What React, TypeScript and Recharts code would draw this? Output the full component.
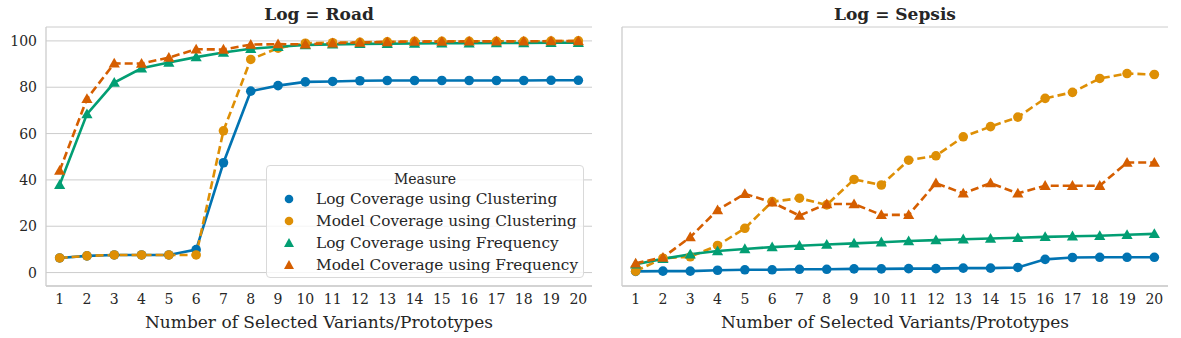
import { LineChart, Line, XAxis, YAxis, CartesianGrid } from "recharts";

const categories = [1, 2, 3, 4, 5, 6, 7, 8, 9, 10, 11, 12, 13, 14, 15, 16, 17, 18, 19, 20];
const yTicks = [0, 20, 40, 60, 80, 100];

// Log = Road
const roadLogClustering = [6.3, 7.2, 7.6, 7.6, 7.6, 9.9, 47.4, 78.3, 80.7, 82.3, 82.5, 82.8, 82.9, 82.9, 82.9, 82.9, 82.9, 82.9, 83.0, 83.0];
const roadModelClustering = [6.3, 7.2, 7.6, 7.6, 7.6, 7.6, 61.2, 92.0, 96.9, 99.0, 99.2, 99.4, 99.6, 99.8, 99.8, 99.8, 99.8, 99.8, 99.9, 100.0];
const roadLogFrequency = [37.9, 68.4, 82.0, 88.2, 90.7, 93.0, 95.0, 96.6, 97.5, 98.2, 98.5, 98.7, 98.8, 98.9, 99.0, 99.0, 99.1, 99.1, 99.2, 99.2];
const roadModelFrequency = [44.0, 75.0, 90.3, 90.2, 92.8, 96.4, 96.3, 98.4, 98.6, 98.5, 99.0, 99.3, 99.5, 99.7, 99.7, 99.8, 99.8, 99.8, 99.9, 99.9];

// Log = Sepsis
const sepsisLogClustering = [0.5, 0.6, 0.6, 1.0, 1.2, 1.2, 1.4, 1.4, 1.6, 1.6, 1.7, 1.7, 1.9, 1.9, 2.2, 5.7, 6.5, 6.6, 6.6, 6.6];
const sepsisModelClustering = [0.6, 6.2, 6.8, 11.7, 19.1, 30.6, 32.1, 29.2, 40.2, 37.8, 48.5, 50.4, 58.6, 63.0, 67.1, 75.2, 77.8, 83.8, 85.9, 85.5];
const sepsisLogFrequency = [3.6, 5.9, 7.9, 9.3, 10.2, 11.0, 11.6, 12.1, 12.6, 13.1, 13.6, 14.0, 14.4, 14.7, 15.0, 15.4, 15.7, 15.9, 16.3, 16.7];
const sepsisModelFrequency = [4.0, 6.5, 15.3, 27.0, 34.0, 30.3, 24.6, 29.6, 29.6, 24.9, 24.9, 38.6, 34.2, 38.6, 34.2, 37.5, 37.5, 37.5, 47.5, 47.5];

const measures = [
  "Log Coverage using Clustering",
  "Model Coverage using Clustering",
  "Log Coverage using Frequency",
  "Model Coverage using Frequency",
];

const BLUE = "#0173b2";
const ORANGE = "#de8f05";
const GREEN = "#029e73";
const RED = "#d55e00";
const FONT = "'DejaVu Serif', serif";
const GRID = "#cccccc";

function buildRows(a: number[], b: number[], c: number[], d: number[]) {
  return categories.map((x, i) => ({ x, logClust: a[i], modelClust: b[i], logFreq: c[i], modelFreq: d[i] }));
}

const roadRows = buildRows(roadLogClustering, roadModelClustering, roadLogFrequency, roadModelFrequency);
const sepsisRows = buildRows(sepsisLogClustering, sepsisModelClustering, sepsisLogFrequency, sepsisModelFrequency);

function CircleDot(props: any) {
  const { cx, cy, fill } = props;
  if (cx == null || cy == null) return null;
  return <circle cx={cx} cy={cy} r={4.8} fill={fill} stroke="none" />;
}

function TriangleDot(props: any) {
  const { cx, cy, fill } = props;
  if (cx == null || cy == null) return null;
  const s = 5.6;
  return (
    <polygon
      points={`${cx},${cy - s} ${cx - s},${cy + s * 0.75} ${cx + s},${cy + s * 0.75}`}
      fill={fill}
      stroke="none"
    />
  );
}

function Panel({ rows, showY }: { rows: any[]; showY: boolean }) {
  return (
    <LineChart width={600} height={338} data={rows} margin={{ top: 27, right: 8, bottom: 0, left: 0 }}>
      <CartesianGrid vertical={false} stroke={GRID} strokeWidth={1} />
      <XAxis
        dataKey="x"
        type="number"
        domain={[0.5, 20.5]}
        ticks={categories}
        interval={0}
        tickLine={false}
        tickSize={0}
        tickMargin={8}
        axisLine={{ stroke: GRID, strokeWidth: 1.3 }}
        tick={{ fontSize: 14, fontFamily: FONT, fill: "#262626" }}
        height={52}
        label={{
          value: "Number of Selected Variants/Prototypes",
          position: "insideBottom",
          offset: 10,
          style: { fontSize: 17, fontFamily: FONT, fill: "#262626" },
        }}
      />
      <YAxis
        type="number"
        domain={[-5.8, 106]}
        ticks={yTicks}
        allowDataOverflow
        tickLine={false}
        tickSize={0}
        tickMargin={9}
        axisLine={{ stroke: GRID, strokeWidth: 1.3 }}
        tick={showY ? { fontSize: 14, fontFamily: FONT, fill: "#262626" } : false}
        width={46}
      />
      <Line dataKey="logClust" stroke={BLUE} fill={BLUE} strokeWidth={2.6} dot={<CircleDot fill={BLUE} />} activeDot={false} isAnimationActive={false} />
      <Line dataKey="modelClust" stroke={ORANGE} fill={ORANGE} strokeWidth={2.6} strokeDasharray="8 4" dot={<CircleDot fill={ORANGE} />} activeDot={false} isAnimationActive={false} />
      <Line dataKey="logFreq" stroke={GREEN} fill={GREEN} strokeWidth={2.6} dot={<TriangleDot fill={GREEN} />} activeDot={false} isAnimationActive={false} />
      <Line dataKey="modelFreq" stroke={RED} fill={RED} strokeWidth={2.6} strokeDasharray="8 4" dot={<TriangleDot fill={RED} />} activeDot={false} isAnimationActive={false} />
    </LineChart>
  );
}

function LegendBox() {
  const colors = [BLUE, ORANGE, GREEN, RED];
  return (
    <div
      style={{
        position: "absolute",
        left: 266,
        top: 165,
        width: 318,
        height: 113,
        boxSizing: "border-box",
        border: "1px solid #d9d9d9",
        borderRadius: 4,
        background: "rgba(255,255,255,0.8)",
        fontFamily: FONT,
        fontSize: 15.3,
        color: "#262626",
      }}
    >
      <div style={{ textAlign: "center", marginTop: 4, lineHeight: "18px", fontSize: 14 }}>Measure</div>
      {measures.map((m, i) => (
        <div key={m} style={{ display: "flex", alignItems: "center", height: 22 }}>
          <svg width={40} height={22} style={{ flex: "none" }}>
            {i < 2 ? (
              <circle cx={22} cy={11} r={4.3} fill={colors[i]} />
            ) : (
              <polygon points="22,6 17,15 27,15" fill={colors[i]} />
            )}
          </svg>
          <span style={{ marginLeft: 9, whiteSpace: "nowrap" }}>{m}</span>
        </div>
      ))}
    </div>
  );
}

export default function App() {
  const titleStyle = {
    position: "absolute" as const,
    top: 4,
    width: 546,
    textAlign: "center" as const,
    fontFamily: FONT,
    fontWeight: 700,
    fontSize: 17,
    color: "#262626",
  };
  return (
    <div style={{ position: "absolute", left: 0, top: 0, width: 1181, height: 338, background: "#fff" }}>
      <div style={{ position: "absolute", left: 0, top: 0 }}>
        <Panel rows={roadRows} showY={true} />
      </div>
      <div style={{ position: "absolute", left: 576, top: 0 }}>
        <Panel rows={sepsisRows} showY={false} />
      </div>
      <div style={{ ...titleStyle, left: 46 }}>Log = Road</div>
      <div style={{ ...titleStyle, left: 622 }}>Log = Sepsis</div>
      <LegendBox />
    </div>
  );
}
